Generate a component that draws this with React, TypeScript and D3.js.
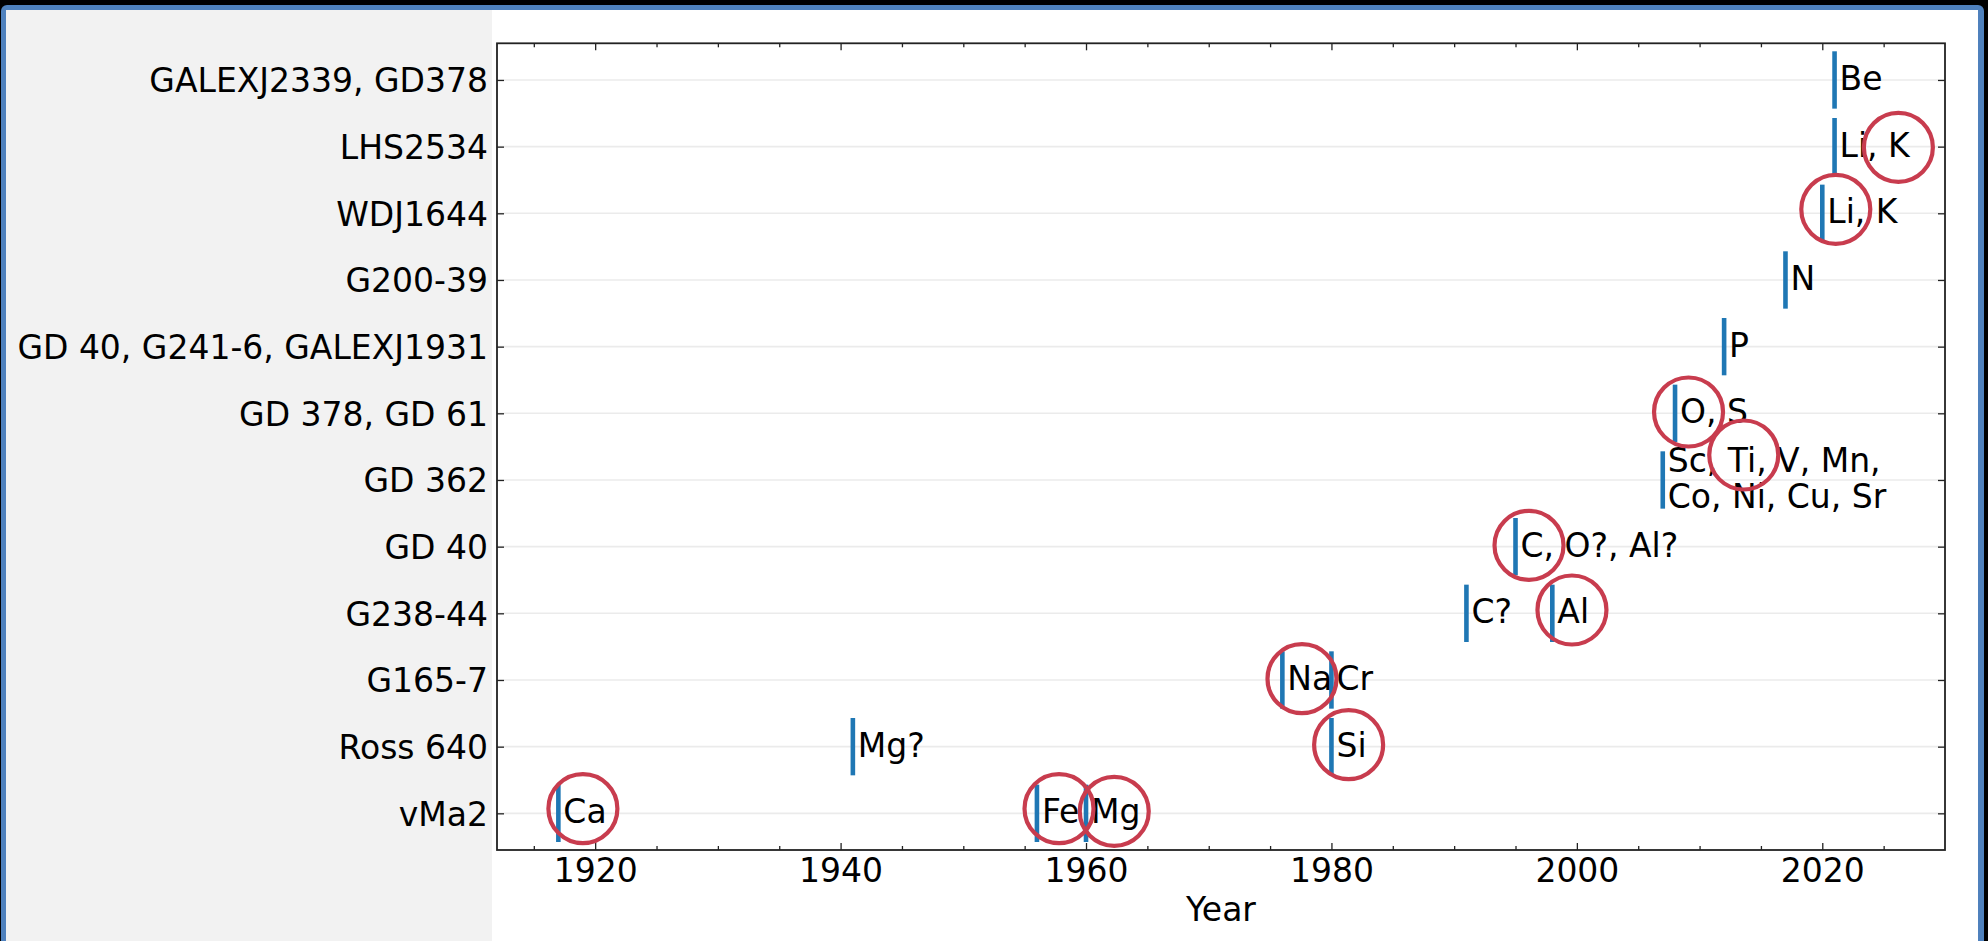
import React, { useEffect, useRef } from 'react';
import * as d3 from 'd3';

// stars, bottom to top
const stars = [
  'vMa2',
  'Ross 640',
  'G165-7',
  'G238-44',
  'GD 40',
  'GD 362',
  'GD 378, GD 61',
  'GD 40, G241-6, GALEXJ1931',
  'G200-39',
  'WDJ1644',
  'LHS2534',
  'GALEXJ2339, GD378',
];

// first detections: year, star, elements
const detYears = [1917, 1941, 1956, 1960, 1976, 1980, 1980, 1991, 1995, 1998, 2007, 2008, 2012, 2017, 2020, 2021, 2021];
const detStars = [
  'vMa2', 'Ross 640', 'vMa2', 'vMa2', 'G165-7', 'G165-7', 'Ross 640', 'G238-44', 'GD 40', 'G238-44',
  'GD 362', 'GD 378, GD 61', 'GD 40, G241-6, GALEXJ1931', 'G200-39', 'WDJ1644', 'LHS2534', 'GALEXJ2339, GD378',
];
const detLabels = [
  'Ca', 'Mg?', 'Fe', 'Mg', 'Na', 'Cr', 'Si', 'C?', 'C, O?, Al?', 'Al',
  'Sc, Ti, V, Mn,\nCo, Ni, Cu, Sr', 'O, S', 'P', 'N', 'Li, K', 'Li, K', 'Be',
];

// red rings around highlighted elements (x in years, y in row units)
const ringYears = [1919, 1957.8, 1962.3, 1977.6, 1981.4, 1999.6, 1996.1, 2009.1, 2013.6, 2021.1, 2026.2];
const ringRows = [0.07, 0.07, 0.03, 2.02, 1.03, 3.05, 4.02, 6.02, 5.375, 9.06, 9.99];

const majorYears = [1920, 1940, 1960, 1980, 2000, 2020];
const minorYears = d3.range(1915, 2030, 5).filter(v => v % 20 !== 0);

const W = 1988;
const H = 941;
const FONT = "'DejaVu Sans', sans-serif";
const FS = '33px';

const App = () => {
  const ref = useRef<SVGSVGElement>(null);

  useEffect(() => {
    const svg = d3.select(ref.current);
    svg.selectAll('*').remove();

    const left = 497, right = 1945, top = 43.3, bottom = 850;
    const x = d3.scaleLinear().domain([1912, 2030]).range([left, right]);
    const y = d3.scaleLinear().domain([-0.55, stars.length - 1 + 0.55]).range([bottom, top]);
    const row = (s: string) => stars.indexOf(s);

    // frame + backgrounds
    svg.append('rect').attr('width', W).attr('height', H).attr('fill', '#000');
    svg.append('rect').attr('x', 1).attr('y', 5).attr('width', 1983).attr('height', H).attr('rx', 6).attr('fill', '#4f81bd');
    svg.append('rect').attr('x', 6).attr('y', 10).attr('width', 1972).attr('height', H).attr('fill', '#fff');
    svg.append('rect').attr('x', 6).attr('y', 10).attr('width', 492 - 6).attr('height', H).attr('fill', '#f2f2f2');

    // grid
    svg.append('g')
      .selectAll('line')
      .data(stars)
      .enter().append('line')
      .attr('x1', left).attr('x2', right)
      .attr('y1', (d, i) => y(i)).attr('y2', (d, i) => y(i))
      .attr('stroke', '#ebebeb').attr('stroke-width', 1.6);

    const styleAxis = (g: any) => {
      g.select('.domain').remove();
      g.selectAll('line').attr('stroke', '#222').attr('stroke-width', 1.3);
      g.selectAll('text').attr('fill', '#000').style('font-family', FONT).style('font-size', FS);
    };

    // bottom
    svg.append('g').attr('transform', `translate(0,${bottom})`)
      .call(d3.axisBottom(x).tickValues(majorYears).tickFormat(d3.format('d')).tickSize(-7).tickPadding(9))
      .call(styleAxis);
    svg.append('g').attr('transform', `translate(0,${bottom})`)
      .call(d3.axisBottom(x).tickValues(minorYears).tickFormat(() => '').tickSize(-4))
      .call(styleAxis);
    // top
    svg.append('g').attr('transform', `translate(0,${top})`)
      .call(d3.axisTop(x).tickValues(majorYears).tickFormat(() => '').tickSize(-7))
      .call(styleAxis);
    svg.append('g').attr('transform', `translate(0,${top})`)
      .call(d3.axisTop(x).tickValues(minorYears).tickFormat(() => '').tickSize(-4))
      .call(styleAxis);
    // left
    svg.append('g').attr('transform', `translate(${left},0)`)
      .call(d3.axisLeft(y).tickValues(d3.range(stars.length)).tickFormat((d: any) => stars[d]).tickSize(-7).tickPadding(9))
      .call(styleAxis)
      .selectAll('text').attr('dy', '0.36em');
    // right
    svg.append('g').attr('transform', `translate(${right},0)`)
      .call(d3.axisRight(y).tickValues(d3.range(stars.length)).tickFormat(() => '').tickSize(-7))
      .call(styleAxis);

    // spines
    svg.append('rect')
      .attr('x', left).attr('y', top).attr('width', right - left).attr('height', bottom - top)
      .attr('fill', 'none').attr('stroke', '#222').attr('stroke-width', 1.8);

    // detection bars
    const det = detYears.map((yr, i) => ({ yr, r: row(detStars[i]), label: detLabels[i] }));
    svg.append('g')
      .selectAll('line')
      .data(det)
      .enter().append('line')
      .attr('x1', d => x(d.yr)).attr('x2', d => x(d.yr))
      .attr('y1', d => y(d.r - 0.43)).attr('y2', d => y(d.r + 0.43))
      .attr('stroke', '#1f77b4').attr('stroke-width', 4.6);

    // labels
    const lh = 36.7;
    const labels = svg.append('g')
      .selectAll('text')
      .data(det)
      .enter().append('text')
      .attr('x', d => x(d.yr) + 5)
      .attr('y', d => y(d.r) + 10)
      .style('font-family', FONT).style('font-size', FS).attr('fill', '#000');
    labels.each(function (d) {
      const lines = d.label.split('\n');
      const t = d3.select(this);
      lines.forEach((ln, k) => {
        t.append('tspan')
          .attr('x', x(d.yr) + 5)
          .attr('y', y(d.r) + 10 - (lines.length - 1) * lh / 2 + k * lh)
          .text(ln);
      });
    });

    // rings
    svg.append('g')
      .selectAll('circle')
      .data(ringYears)
      .enter().append('circle')
      .attr('cx', d => x(d))
      .attr('cy', (d, i) => y(ringRows[i]))
      .attr('r', 34.5)
      .attr('fill', 'none').attr('stroke', '#c83c4e').attr('stroke-width', 4.2);

    // x label
    svg.append('text')
      .attr('x', (left + right) / 2).attr('y', 920.5)
      .attr('text-anchor', 'middle')
      .style('font-family', FONT).style('font-size', FS)
      .text('Year');
  }, []);

  return (
    <div style={{ position: 'absolute', left: 0, top: 0 }}>
      <svg ref={ref} width={W} height={H} style={{ display: 'block' }}></svg>
    </div>
  );
};

export default App;
